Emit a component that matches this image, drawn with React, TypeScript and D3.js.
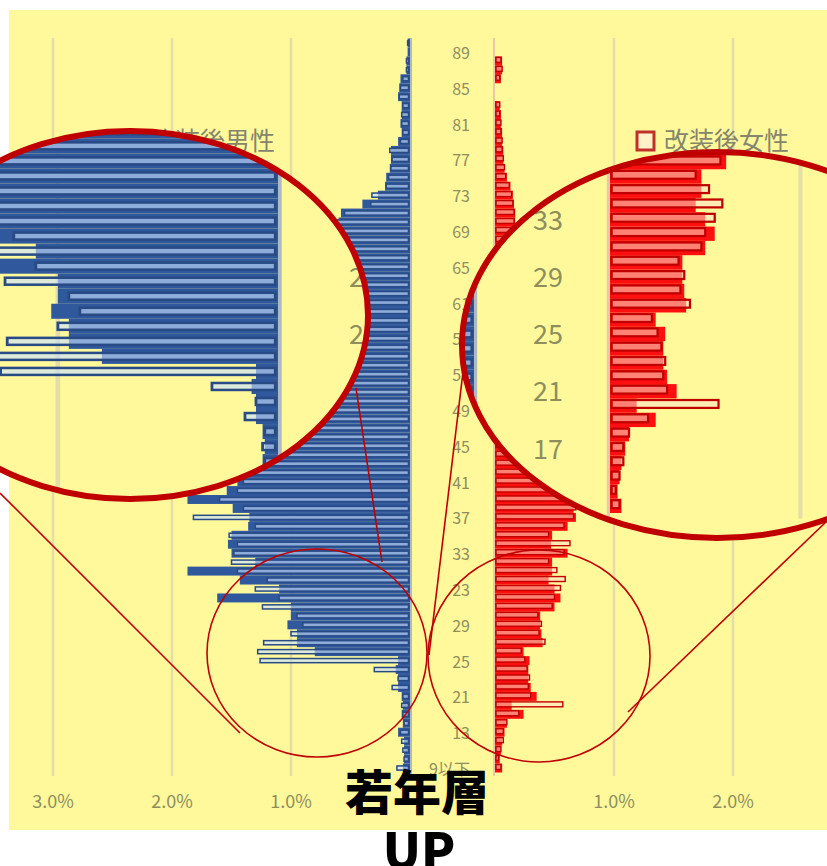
import React, { useEffect, useRef } from 'react';
import * as d3 from 'd3';

// Age rows: 9 stands for "9以下", then 10 .. 90
const AGES = d3.range(9, 91);

// share of customers (%), index 0 = age 9 ... index 81 = age 90
const MALE_BEFORE = [
  0.06, 0.05, 0.05, 0.05, 0.10, 0.06, 0.07, 0.06, 0.07, 0.10,
  0.10, 0.12, 0.10, 0.80, 0.95, 0.95, 1.03, 1.00, 1.00, 1.62,
  1.10, 1.43, 1.87, 1.30, 1.50, 1.53, 1.50, 1.36, 1.35, 1.49,
  1.87, 1.54, 1.45, 1.42, 1.31, 1.38, 1.27, 1.33, 1.19, 1.24,
  1.12, 1.18, 1.09, 1.14, 1.02, 1.07, 0.98, 1.03, 0.94, 0.97,
  0.88, 0.92, 0.85, 0.89, 0.80, 0.83, 0.77, 0.79, 0.72, 0.74,
  0.66, 0.60, 0.58, 0.40, 0.27, 0.21, 0.20, 0.17, 0.16, 0.16,
  0.10, 0.07, 0.08, 0.07, 0.07, 0.10, 0.09, 0.08, 0.03, 0.03,
  0.02, 0.02,
];
const MALE_AFTER = [
  0.11, 0.05, 0.06, 0.07, 0.08, 0.05, 0.06, 0.07, 0.06, 0.15,
  0.10, 0.30, 1.26, 1.28, 1.23, 1.00, 0.90, 0.95, 1.24, 1.10,
  1.30, 1.20, 1.45, 1.50, 1.48, 1.45, 1.52, 1.30, 1.82, 1.40,
  1.60, 1.45, 1.40, 1.36, 1.40, 1.33, 1.30, 1.28, 1.22, 1.20,
  1.16, 1.13, 1.12, 1.08, 1.10, 1.03, 1.00, 0.99, 0.96, 0.93,
  0.90, 0.88, 0.86, 0.84, 0.82, 0.78, 0.80, 0.74, 0.75, 0.70,
  0.68, 0.62, 0.55, 0.33, 0.32, 0.20, 0.18, 0.16, 0.15, 0.17,
  0.08, 0.06, 0.07, 0.07, 0.06, 0.09, 0.08, 0.06, 0.03, 0.03,
  0.01, 0.02,
];
const FEMALE_BEFORE = [
  0.06, 0.04, 0.05, 0.06, 0.08, 0.10, 0.24, 0.14, 0.35, 0.30,
  0.28, 0.28, 0.29, 0.24, 0.40, 0.39, 0.38, 0.38, 0.50, 0.55,
  0.50, 0.45, 0.48, 0.48, 0.61, 0.47, 0.48, 0.61, 0.68, 0.66,
  0.60, 0.55, 0.45, 0.44, 0.40, 0.42, 0.38, 0.41, 0.36, 0.39,
  0.35, 0.37, 0.33, 0.36, 0.32, 0.34, 0.30, 0.33, 0.29, 0.31,
  0.28, 0.30, 0.27, 0.28, 0.25, 0.26, 0.23, 0.24, 0.21, 0.20,
  0.18, 0.17, 0.17, 0.16, 0.15, 0.13, 0.10, 0.08, 0.07, 0.07,
  0.06, 0.06, 0.05, 0.05, 0.04, 0, 0, 0.05, 0.06, 0.06,
  0, 0,
];
const FEMALE_AFTER = [
  0.05, 0.03, 0.05, 0.07, 0.07, 0.10, 0.20, 0.57, 0.30, 0.28,
  0.29, 0.27, 0.25, 0.22, 0.42, 0.37, 0.39, 0.36, 0.48, 0.50,
  0.55, 0.59, 0.52, 0.45, 0.58, 0.63, 0.45, 0.58, 0.66, 0.68,
  0.62, 0.52, 0.47, 0.42, 0.41, 0.40, 0.39, 0.39, 0.37, 0.38,
  0.34, 0.36, 0.34, 0.35, 0.31, 0.33, 0.31, 0.32, 0.28, 0.30,
  0.29, 0.29, 0.26, 0.27, 0.26, 0.25, 0.22, 0.23, 0.21, 0.19,
  0.18, 0.16, 0.16, 0.15, 0.14, 0.12, 0.09, 0.08, 0.07, 0.06,
  0.06, 0.05, 0.05, 0.04, 0.04, 0, 0, 0.04, 0.06, 0.05,
  0, 0,
];

// age axis ticks as printed in the picture
const AGE_TICKS = [89, 85, 81, 77, 73, 69, 65, 61, 57, 53, 49, 45, 41, 37, 33, 29, 25, 21, 17, 13, 9];
const AGE_TICK_TEXT = ['89', '85', '81', '77', '73', '69', '65', '61', '57', '53', '49', '45', '41', '37', '33', '23', '29', '25', '21', '13', '9以下'];
// ticks of the magnified view
const ZOOM_TICKS = [33, 29, 25, 21, 17];
const ZOOM_TICK_TEXT = ['33', '29', '25', '21', '17'];
// percent axis
const PCT_TICKS_MALE = [3, 2, 1];
const PCT_TICKS_FEMALE = [1, 2];

const LEGEND_MALE = '改装後男性';
const LEGEND_FEMALE = '改装後女性';
const TITLE_1 = '若年層';
const TITLE_2 = 'UP';

const YELLOW = '#FFF99C';
const GRID = '#E4DDA8';
const LABEL = '#8E8E5C';
const RING = '#C00000';
const FONT = '"Noto Sans CJK JP", "Noto Sans", sans-serif';

const y = d3.scaleBand<number>().domain([...AGES].reverse()).range([38.5, 772.5]).paddingInner(0);
const xM = d3.scaleLinear().domain([0, 3]).range([410, 53]);
const xF = d3.scaleLinear().domain([0, 2]).range([495, 733]);
const zoomY = d3.scaleLinear().domain([33, 17]).range([218, 447]);

const rows = AGES.map((age, i) => ({
  age,
  mb: MALE_BEFORE[i],
  ma: MALE_AFTER[i],
  fb: FEMALE_BEFORE[i],
  fa: FEMALE_AFTER[i],
}));

function drawChart(g: d3.Selection<SVGGElement, unknown, null, undefined>, showText: boolean) {
  const bw = y.bandwidth();

  // gridlines
  g.selectAll('.gm').data(PCT_TICKS_MALE).enter().append('line')
    .attr('x1', d => xM(d)).attr('x2', d => xM(d))
    .attr('y1', 38).attr('y2', 776)
    .attr('stroke', GRID).attr('stroke-width', 2.5);
  g.selectAll('.gf').data(PCT_TICKS_FEMALE).enter().append('line')
    .attr('x1', d => xF(d)).attr('x2', d => xF(d))
    .attr('y1', 38).attr('y2', 776)
    .attr('stroke', GRID).attr('stroke-width', 2.5);

  // zero axes
  g.append('line').attr('x1', xM(0) + 1).attr('x2', xM(0) + 1).attr('y1', 38).attr('y2', 776)
    .attr('stroke', '#AEB9C2').attr('stroke-width', 2);
  g.append('line').attr('x1', xF(0) - 1).attr('x2', xF(0) - 1).attr('y1', 38).attr('y2', 776)
    .attr('stroke', '#EBC9A6').attr('stroke-width', 2);

  // male: before filled, after outlined
  g.selectAll('.mb').data(rows.filter(d => d.mb > 0)).enter().append('rect')
    .attr('x', d => xM(d.mb)).attr('y', d => y(d.age)!)
    .attr('width', d => xM(0) - xM(d.mb)).attr('height', bw)
    .attr('fill', '#30589C');
  g.selectAll('.ma').data(rows.filter(d => d.ma > 0)).enter().append('rect')
    .attr('x', d => xM(d.ma)).attr('y', d => y(d.age)! + 2.4)
    .attr('width', d => Math.max(0, xM(0) - xM(d.ma) - 1.5)).attr('height', bw - 4.8)
    .attr('fill', 'rgba(200,225,255,0.62)').attr('stroke', '#284A85').attr('stroke-width', 1.5);

  // female: before filled, after outlined (upper part of the row)
  g.selectAll('.fb').data(rows.filter(d => d.fb > 0)).enter().append('rect')
    .attr('x', xF(0)).attr('y', d => y(d.age)!)
    .attr('width', d => xF(d.fb) - xF(0)).attr('height', bw)
    .attr('fill', '#FF0F0F');
  g.selectAll('.fa').data(rows.filter(d => d.fa > 0)).enter().append('rect')
    .attr('x', xF(0) + 1).attr('y', d => y(d.age)! + 1)
    .attr('width', d => Math.max(0, xF(d.fa) - xF(0) - 1)).attr('height', bw * 0.55)
    .attr('fill', 'rgba(255,225,200,0.55)').attr('stroke', '#C00000').attr('stroke-width', 1.4);

  if (!showText) return;

  // age labels
  g.selectAll('.age').data(AGE_TICKS).enter().append('text')
    .attr('x', 470).attr('y', d => y(d)! + bw / 2)
    .attr('text-anchor', 'end').attr('dominant-baseline', 'central')
    .style('font-family', FONT).style('font-size', '16px').style('fill', LABEL)
    .text((d, i) => AGE_TICK_TEXT[i]);

  // percent labels
  g.selectAll('.pm').data(PCT_TICKS_MALE).enter().append('text')
    .attr('x', d => xM(d)).attr('y', 800)
    .attr('text-anchor', 'middle').attr('dominant-baseline', 'central')
    .style('font-family', FONT).style('font-size', '18px').style('fill', LABEL)
    .text(d => `${d.toFixed(1)}%`);
  g.selectAll('.pf').data(PCT_TICKS_FEMALE).enter().append('text')
    .attr('x', d => xF(d)).attr('y', 800)
    .attr('text-anchor', 'middle').attr('dominant-baseline', 'central')
    .style('font-family', FONT).style('font-size', '18px').style('fill', LABEL)
    .text(d => `${d.toFixed(1)}%`);
}

function drawMagnifier(
  svg: d3.Selection<SVGSVGElement, unknown, null, undefined>,
  id: string,
  e: { cx: number; cy: number; rx: number; ry: number },
  sx: number, sy: number, tx: number, ty: number, labelX: number,
) {
  svg.select('defs').append('clipPath').attr('id', id)
    .append('ellipse').attr('cx', e.cx).attr('cy', e.cy).attr('rx', e.rx).attr('ry', e.ry);
  const g = svg.append('g');
  g.append('ellipse').attr('cx', e.cx).attr('cy', e.cy).attr('rx', e.rx).attr('ry', e.ry)
    .attr('fill', YELLOW);
  const inner = g.append('g').attr('clip-path', `url(#${id})`);
  inner.append('g').attr('transform', `translate(${tx},${ty}) scale(${sx},${sy})`)
    .call(sel => drawChart(sel as any, false));
  inner.selectAll('.zt').data(ZOOM_TICKS).enter().append('text')
    .attr('x', labelX).attr('y', d => zoomY(d))
    .attr('text-anchor', 'end').attr('dominant-baseline', 'central')
    .style('font-family', FONT).style('font-size', '27px').style('fill', LABEL)
    .text((d, i) => ZOOM_TICK_TEXT[i]);
  g.append('ellipse').attr('cx', e.cx).attr('cy', e.cy).attr('rx', e.rx).attr('ry', e.ry)
    .attr('fill', 'none').attr('stroke', RING).attr('stroke-width', 6);
}

const App: React.FC = () => {
  const svgRef = useRef<SVGSVGElement>(null);

  useEffect(() => {
    if (!svgRef.current) return;
    const svg = d3.select(svgRef.current);
    svg.selectAll('*').remove();
    svg.append('defs');

    svg.append('rect').attr('width', 827).attr('height', 866).attr('fill', '#FFFFFF');
    svg.append('rect').attr('x', 9).attr('y', 10).attr('width', 818).attr('height', 820).attr('fill', YELLOW);

    const main = svg.append('g');
    drawChart(main, true);

    // legends
    svg.append('text').attr('x', 150).attr('y', 139).attr('dominant-baseline', 'central')
      .style('font-family', FONT).style('font-size', '25px').style('fill', '#85856C')
      .text(LEGEND_MALE);
    svg.append('rect').attr('x', 637).attr('y', 132).attr('width', 17).attr('height', 18)
      .attr('fill', '#FFF2C8').attr('stroke', '#C0302A').attr('stroke-width', 3);
    svg.append('text').attr('x', 664).attr('y', 139).attr('dominant-baseline', 'central')
      .style('font-family', FONT).style('font-size', '25px').style('fill', '#85856C')
      .text(LEGEND_FEMALE);

    // small circles around the young ages
    svg.append('ellipse').attr('cx', 317).attr('cy', 653).attr('rx', 110).attr('ry', 104)
      .attr('fill', 'none').attr('stroke', RING).attr('stroke-width', 1.6);
    svg.append('ellipse').attr('cx', 539).attr('cy', 656).attr('rx', 111).attr('ry', 106)
      .attr('fill', 'none').attr('stroke', RING).attr('stroke-width', 1.6);

    // magnified views
    const sxL = 1.85;
    const syL = 1.68;
    drawMagnifier(svg, 'clipL', { cx: 130, cy: 315, rx: 238, ry: 184 }, sxL, syL,
      278 - xM(0) * sxL, 362 - 655 * syL, 379);
    const sR = 1.6;
    drawMagnifier(svg, 'clipR', { cx: 717, cy: 345, rx: 255, ry: 193 }, sR, sR,
      610 - xF(0) * sR, 405 - 705 * sR, 563);

    // connector lines
    const links = [
      [0, 493, 240, 733],
      [356, 388, 382, 562],
      [463, 372, 429, 655],
      [628, 712, 827, 521],
    ];
    svg.selectAll('.link').data(links).enter().append('line')
      .attr('x1', d => d[0]).attr('y1', d => d[1]).attr('x2', d => d[2]).attr('y2', d => d[3])
      .attr('stroke', RING).attr('stroke-width', 1.6);

    // headline
    svg.append('text').attr('x', 417).attr('y', 810).attr('text-anchor', 'middle')
      .style('font-family', FONT).style('font-size', '48px').style('font-weight', 900).style('fill', '#000')
      .text(TITLE_1);
    svg.append('text').attr('x', 419).attr('y', 869).attr('text-anchor', 'middle')
      .style('font-family', FONT).style('font-size', '50px').style('font-weight', 900).style('fill', '#000')
      .text(TITLE_2);
  }, []);

  return (
    <svg ref={svgRef} width={827} height={866}
      style={{ position: 'absolute', left: 0, top: 0, display: 'block' }} />
  );
};

export default App;
